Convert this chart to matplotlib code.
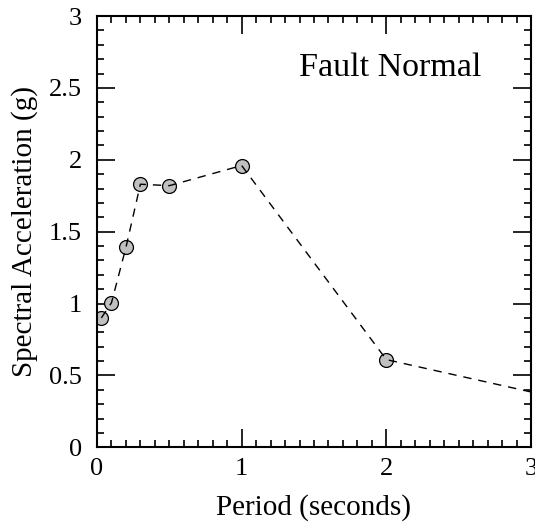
import matplotlib
matplotlib.use("Agg")
import matplotlib.pyplot as plt
from matplotlib.ticker import MultipleLocator

plt.rcParams['font.family'] = ['Liberation Serif', 'DejaVu Serif']

# Spectral acceleration values
period = [0.03, 0.1, 0.2, 0.3, 0.5, 1.0, 2.0]
accel = [0.90, 1.005, 1.39, 1.83, 1.82, 1.96, 0.61]
# dashed line continues to the right edge with no marker
line_period = period + [3.0]
line_accel = accel + [0.385]

fig = plt.figure(figsize=(5.35, 5.22), dpi=100)
ax = fig.add_axes([0.1813, 0.1431, 0.8112, 0.8262])

ax.plot(period, accel, linestyle='None', marker='o', markersize=10,
        markerfacecolor='#c0c0c0', markeredgecolor='black', markeredgewidth=0.9, zorder=2)
ax.plot(line_period, line_accel, linestyle=(0, (6, 5)), color='black', linewidth=1.0, zorder=3)

ax.set_xlim(0, 3)
ax.set_ylim(0, 3)
ax.xaxis.set_major_locator(MultipleLocator(1))
ax.xaxis.set_minor_locator(MultipleLocator(0.1))
ax.yaxis.set_major_locator(MultipleLocator(0.5))
ax.yaxis.set_minor_locator(MultipleLocator(0.1))
ax.xaxis.set_major_formatter(plt.FuncFormatter(lambda v, p: f"{v:g}"))
ax.yaxis.set_major_formatter(plt.FuncFormatter(lambda v, p: f"{v:g}"))

ax.tick_params(which='both', direction='in', top=True, right=True, labelsize=19, width=1.2)
ax.tick_params(which='major', length=13)
ax.tick_params(which='minor', length=5)
ax.tick_params(axis='x', which='major', pad=8)
ax.tick_params(axis='y', which='major', pad=11)
for s in ax.spines.values():
    s.set_linewidth(1.5)

ax.set_xlabel('Period (seconds)', fontsize=21, labelpad=10)
ax.set_ylabel('Spectral Acceleration (g)', fontsize=21, labelpad=8)
ax.text(2.03, 2.64, 'Fault Normal', fontsize=24.5, ha='center', va='center')

fig.savefig('out.png', dpi=100)
